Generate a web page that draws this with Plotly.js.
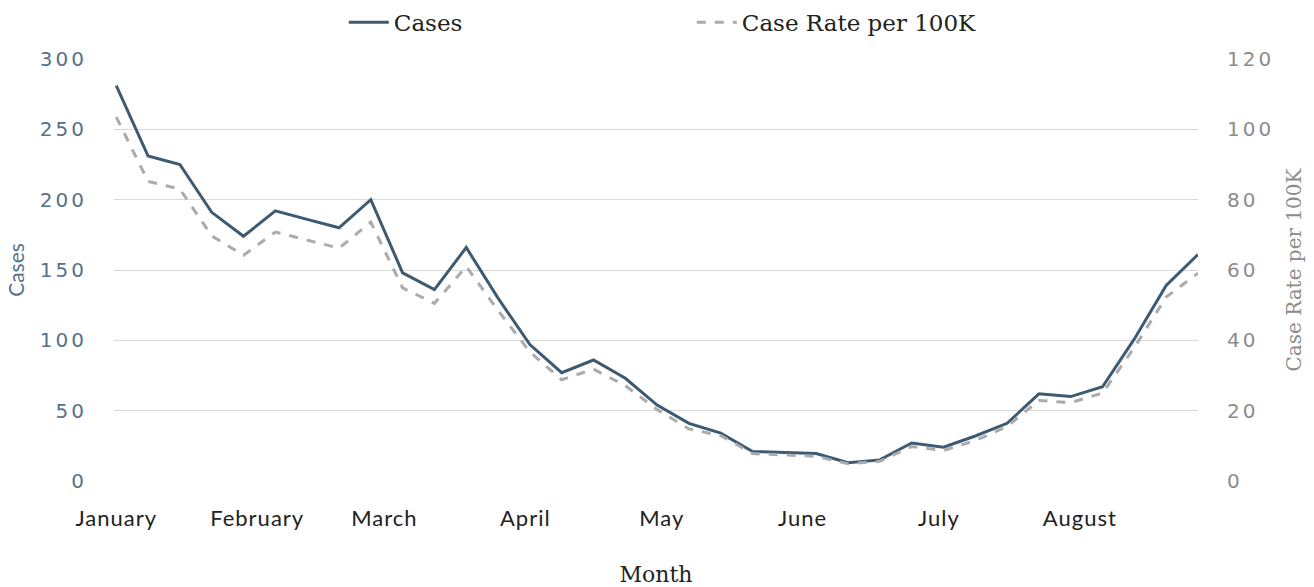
<!DOCTYPE html>
<html>
<head>
<meta charset="utf-8">
<script src="https://cdn.plot.ly/plotly-3.0.1.min.js"></script>
<style>
html,body{margin:0;padding:0;background:#fff;}
#chart{width:1314px;height:587px;}
#chart .ytick text, #chart .y2tick text{letter-spacing:3px;}
#chart .xtick text{letter-spacing:1px;}
</style>
</head>
<body>
<div id="chart"></div>
<script>
const weeks = ["2021-01-01","2021-01-08","2021-01-15","2021-01-22","2021-01-29","2021-02-05","2021-02-12","2021-02-19","2021-02-26","2021-03-05","2021-03-12","2021-03-19","2021-03-26","2021-04-02","2021-04-09","2021-04-16","2021-04-23","2021-04-30","2021-05-07","2021-05-14","2021-05-21","2021-05-28","2021-06-04","2021-06-11","2021-06-18","2021-06-25","2021-07-02","2021-07-09","2021-07-16","2021-07-23","2021-07-30","2021-08-06","2021-08-13","2021-08-20","2021-08-27"];
const cases = [281, 231, 225, 191, 174, 192, 186, 180, 200, 148, 136, 166, 130, 97, 77, 86, 73, 54, 41, 34, 21, 20, 19.5, 13, 15, 27, 24, 32, 41, 62, 60, 67, 101, 139, 161];
const caseRate = [103.5, 85.2, 83, 69.7, 64.2, 70.8, 68.5, 66.2, 73.6, 54.9, 50.5, 61, 48.5, 36.7, 28.8, 31.8, 27.1, 20.3, 14.8, 12.9, 7.8, 7.5, 7.0, 4.9, 5.6, 9.8, 8.7, 11.5, 15.5, 22.9, 22.3, 25, 38, 52.3, 59.1];

const traces = [
  {x: weeks, y: cases, name: "Cases", type: "scatter", mode: "lines",
   line: {color: "#3d5a73", width: 3}, yaxis: "y"},
  {x: weeks, y: caseRate, name: "Case Rate per 100K", type: "scatter", mode: "lines",
   line: {color: "#ababab", width: 3, dash: "dash"}, yaxis: "y2"}
];

const layout = {
  width: 1314, height: 587,
  margin: {l: 114, r: 116, t: 59, b: 106},
  paper_bgcolor: "#fff", plot_bgcolor: "#fff",
  showlegend: true,
  legend: {orientation: "h", x: 0.212, xanchor: "left", xref: "paper", y: 0.962, yanchor: "middle", yref: "container",
           font: {family: "DejaVu Serif", size: 23, color: "#222"}, entrywidth: 293, itemwidth: 40, tracegroupgap: 0},
  xaxis: {
    type: "date", range: ["2020-12-31 12:00", "2021-08-27"],
    tick0: "2021-01-01", dtick: "M1", tickformat: "%B",
    showgrid: false, zeroline: false, showline: false, ticks: "",
    tickfont: {family: "Lato", size: 22, color: "#222"},
    ticklabelstandoff: 22,
    title: {text: "Month", font: {family: "DejaVu Serif", size: 22, color: "#222"}, standoff: 44}
  },
  yaxis: {
    range: [0, 300], tickvals: [0, 50, 100, 150, 200, 250, 300],
    showgrid: true, gridcolor: "#d9d9d9", gridwidth: 1, zeroline: false, showline: false, ticks: "",
    tickfont: {family: "DejaVu Sans", size: 20, color: "#56718a"},
    ticklabelstandoff: 26,
    title: {text: "Cases", font: {family: "Lato", size: 21, color: "#56718a"}, standoff: 18}
  },
  yaxis2: {
    range: [0, 120], tickvals: [0, 20, 40, 60, 80, 100, 120],
    overlaying: "y", side: "right",
    showgrid: false, zeroline: false, showline: false, ticks: "",
    tickfont: {family: "DejaVu Sans", size: 20, color: "#8c8c8c"},
    ticklabelstandoff: 28,
    title: {text: "Case Rate per 100K", font: {family: "DejaVu Serif", size: 20, color: "#8c8c8c"}, standoff: 22}
  }
};

Plotly.newPlot("chart", traces, layout, {staticPlot: true, displayModeBar: false});
</script>
</body>
</html>
